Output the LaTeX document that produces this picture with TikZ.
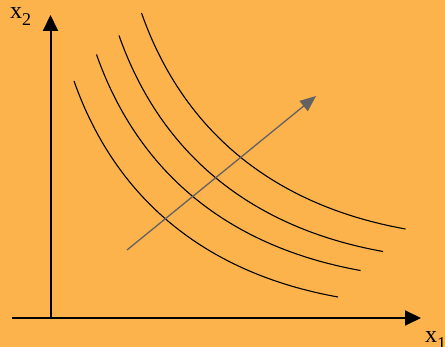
\documentclass[tikz,border=0pt]{standalone}
\usepackage{fontspec}
\setmainfont{Liberation Serif}
\usetikzlibrary{arrows.meta}
\definecolor{bgorange}{RGB}{253,179,76}
\definecolor{dirgray}{RGB}{98,98,98}

\begin{document}
\begin{tikzpicture}[
  x=1pt, y=-1pt,
  axis/.style={draw=black, line width=2pt, -{Triangle[length=16pt,width=15pt]}},
  icurve/.style={draw=black, line width=1.1pt},
  dirar/.style={draw=dirgray, line width=1.3pt, -{Triangle[length=16pt,width=13pt]}},
  axlab/.style={font=\fontsize{24}{24}\selectfont, inner sep=0pt, anchor=base west}
]

% sfondo
\fill[bgorange] (0,0) rectangle (445,347);
\useasboundingbox (0,0) rectangle (445,347);

%--------------------------------------------------------------
% Assi
%--------------------------------------------------------------
\coordinate (orig) at (50.5,318);
\coordinate (xend) at (421,318);
\coordinate (yend) at (50.5,15);
\coordinate (xstart) at (12,318);

\draw[axis] (xstart) -- (xend);
\draw[axis] (orig) -- (yend);

\node[axlab] (xtwo) at (10,19) {x\raisebox{-7pt}{\fontsize{18}{18}\selectfont 2}};
\node[axlab] (xone) at (425,343) {x\raisebox{-7pt}{\fontsize{18}{18}\selectfont 1}};

%--------------------------------------------------------------
% Curve di indifferenza (stessa curva, traslata)
%--------------------------------------------------------------
\foreach \dx/\dy in {0/0, 22.5/-26.5, 45/-45.5, 67.5/-68}
  \draw[icurve, shift={(\dx,\dy)}]
    (74,81) .. controls (117,203) and (210,274) .. (338,297);

%--------------------------------------------------------------
% Direzione di preferenza
%--------------------------------------------------------------
\coordinate (dstart) at (127,250);
\coordinate (dtip) at (316,96);
\draw[dirar] (dstart) -- (dtip);

\end{tikzpicture}
\end{document}
